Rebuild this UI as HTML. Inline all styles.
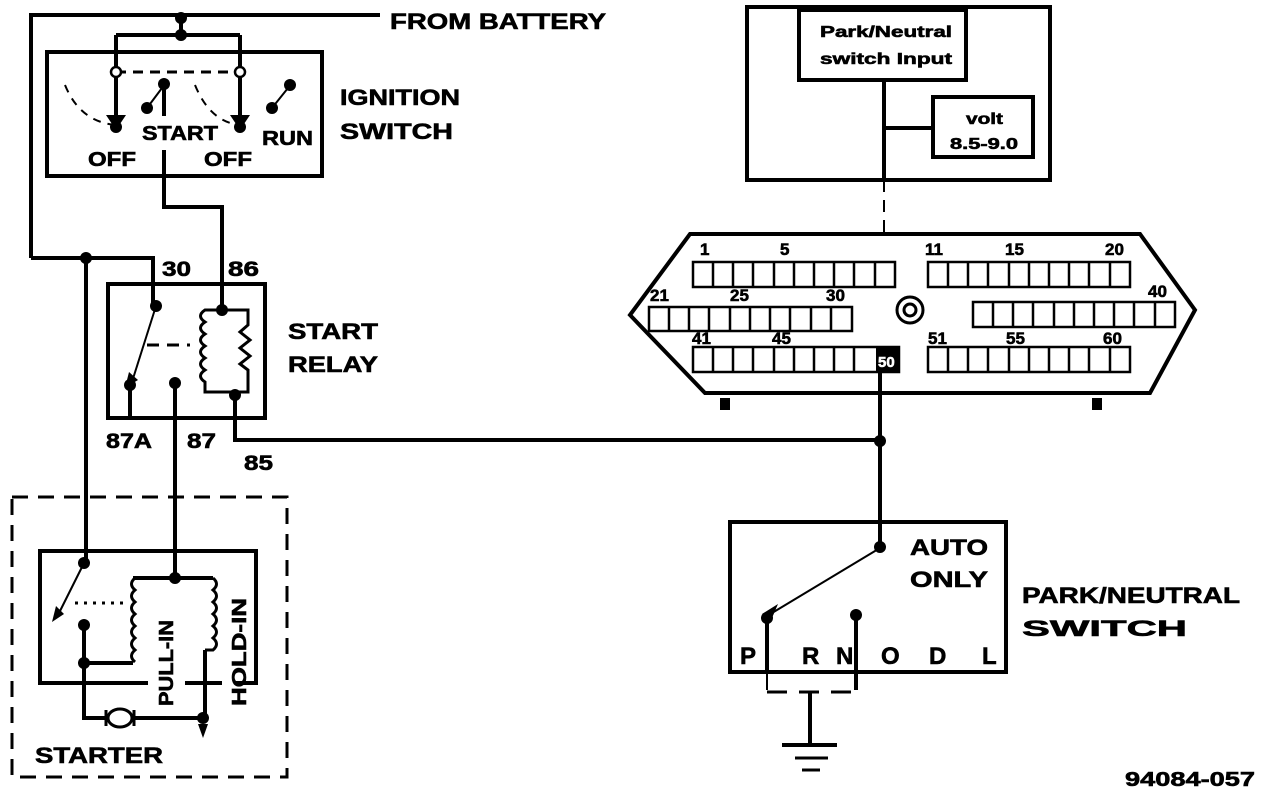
<!DOCTYPE html>
<html><head><meta charset="utf-8"><style>
html,body{margin:0;padding:0;background:#fff;}
svg{display:block;}
text{font-family:"Liberation Sans",Arial,sans-serif;font-weight:bold;fill:#000;stroke:#000;stroke-width:0.6;}
</style></head><body>
<svg width="1280" height="794" viewBox="0 0 1280 794" xmlns="http://www.w3.org/2000/svg">
<g fill="none" stroke="#000" stroke-width="4" stroke-linejoin="miter">
<path d="M31 258 V15 H380"/>
<path d="M181 18 V35 M116 35 H240 M116 35 V122 M240 35 V122"/>
<rect x="47" y="52" width="275" height="124"/>
<path d="M164 84 V116 M164 150 V207 H222 V310"/>
<path d="M31 258 H153 V306"/>
<path d="M86 258 V563"/>
<rect x="108" y="284" width="157" height="134"/>
<path d="M175 383 V578"/>
<path d="M130 385 V418"/>
<path d="M235 395 V440 H880"/>
<path d="M880 372 V548"/>
<path d="M148 683 H40 V551 H256 V683 H236 M185 683 H222"/>
<path d="M175 578 H213 M133 578 H175"/>
<path d="M84 625 V718 H105 M135 718 H203 M84 663 H133"/>
<path d="M205 650 V718"/>
<rect x="747" y="7" width="303" height="173"/>
<rect x="799" y="10" width="167" height="70"/>
<rect x="933" y="97" width="100" height="60"/>
<path d="M884 80 V180 M884 128 H933"/>
<path d="M690 234 H1140 L1195 310 L1150 393 H705 L630 315 Z"/>
<rect x="730" y="522" width="276" height="150"/>
<path d="M767 620 V672"/>
<path d="M856 615 V690"/>
<path d="M810 692 V745 M782 745 H837"/>
</g>
<g fill="none" stroke="#000" stroke-width="2">
<path d="M767 672 V690"/>
<path d="M880 548 L772 613"/>
<path d="M156 306 L131 385"/>
<path d="M84 563 L57 617"/>
<path d="M147 108 L162 88 M272 108 L288 88"/>
<path d="M65 85 Q80 122 116 125" stroke-dasharray="8 7"/>
<path d="M195 85 Q210 122 240 125" stroke-dasharray="8 7"/>
<path d="M116 72 H240" stroke-width="3" stroke-dasharray="10 7"/>
<path d="M147 345 H190" stroke-width="3" stroke-dasharray="12 8"/>
<path d="M75 603 H125" stroke-width="3" stroke-dasharray="3 6"/>
<path d="M884 180 V235" stroke-width="2" stroke-dasharray="12 8"/>
<path d="M767 692 H857" stroke-width="3" stroke-dasharray="20 12"/>
<path d="M12 497 H287 V777 H12 Z" stroke-width="3" stroke-dasharray="16 10"/>
<path d="M795 758 H828 M802 770 H820" stroke-width="3"/>
<path d="M222 310 H205 Q196 316 205 322 Q196 328 205 334 Q196 340 205 346 Q196 352 205 358 Q196 364 205 370 Q196 376 205 382 V392 H235" stroke-width="3"/>
<path d="M222 310 H248 V325 L240 332 L250 340 L240 348 L250 356 L240 364 L248 370 V392 H235" stroke-width="3"/>
<path d="M135 578 Q128 584 135 590 Q128 596 135 602 Q128 608 135 614 Q128 620 135 626 Q128 632 135 638 Q128 644 135 650 Q128 656 135 662" stroke-width="3"/>
<path d="M213 578 Q220 584 213 590 Q220 596 213 602 Q220 608 213 614 Q220 620 213 626 Q220 632 213 638 Q220 644 213 650 H205" stroke-width="3"/>
<ellipse cx="120" cy="718" rx="12" ry="9" stroke-width="3"/>
<path d="M106 710 V726 M134 710 V726" stroke-width="3"/>
<g stroke-width="2.5">
<rect x="693" y="262" width="202" height="25"/><path d="M713 262v25M733 262v25M753 262v25M774 262v25M794 262v25M814 262v25M834 262v25M854 262v25M875 262v25"/>
<rect x="928" y="262" width="202" height="25"/><path d="M948 262v25M968 262v25M988 262v25M1009 262v25M1029 262v25M1049 262v25M1069 262v25M1089 262v25M1110 262v25"/>
<rect x="649" y="307" width="203" height="24"/><path d="M669 307v24M689 307v24M709 307v24M730 307v24M750 307v24M770 307v24M790 307v24M811 307v24M831 307v24"/>
<rect x="973" y="302" width="202" height="25"/><path d="M993 302v25M1013 302v25M1033 302v25M1054 302v25M1074 302v25M1094 302v25M1114 302v25M1134 302v25M1155 302v25"/>
<rect x="693" y="347" width="206" height="25"/><path d="M713 347v25M733 347v25M753 347v25M774 347v25M794 347v25M814 347v25M834 347v25M854 347v25"/>
<rect x="928" y="347" width="202" height="25"/><path d="M948 347v25M968 347v25M988 347v25M1009 347v25M1029 347v25M1049 347v25M1069 347v25M1089 347v25M1110 347v25"/>
</g>
<circle cx="910" cy="310" r="13" stroke-width="3"/>
<circle cx="910" cy="310" r="6" stroke-width="3"/>
<circle cx="116" cy="72" r="5" stroke-width="2.5" fill="#fff"/>
<circle cx="240" cy="72" r="5" stroke-width="2.5" fill="#fff"/>
</g>
<rect x="876" y="347" width="24" height="25" fill="#000"/>
<text x="878" y="367" font-size="15" style="fill:#fff;stroke:#fff">50</text>
<path d="M720 398 h10 v12 h-10z M1092 398 h10 v12 h-10z" fill="#000"/>
<g fill="#000">
<circle cx="181" cy="18" r="6"/><circle cx="181" cy="35" r="6"/>
<circle cx="164" cy="84" r="6"/><circle cx="147" cy="108" r="6"/>
<circle cx="290" cy="85" r="6"/><circle cx="272" cy="108" r="6"/>
<circle cx="116" cy="127" r="6"/><circle cx="240" cy="127" r="6"/>
<path d="M106 115 L116 130 L126 115 Z M230 115 L240 130 L250 115 Z"/>
<circle cx="86" cy="258" r="6"/>
<circle cx="156" cy="306" r="6"/><circle cx="222" cy="310" r="6"/>
<circle cx="130" cy="385" r="6"/><circle cx="175" cy="383" r="6"/><circle cx="235" cy="395" r="6"/>
<circle cx="880" cy="441" r="6"/><circle cx="880" cy="547" r="6"/>
<circle cx="767" cy="618" r="6"/><circle cx="856" cy="615" r="6"/>
<circle cx="84" cy="563" r="6"/><circle cx="175" cy="578" r="6"/>
<circle cx="84" cy="625" r="6"/><circle cx="84" cy="663" r="6"/><circle cx="203" cy="718" r="6"/>
<path d="M198 724 L203 738 L208 724 Z"/>
<path d="M52 622 L56 606 L64 614 Z"/>
<path d="M125 388 L129 372 L138 380 Z"/>
<path d="M762 614 L778 604 L772 618 Z"/>
</g>
<g font-size="22">
<text x="390" y="29" textLength="216" lengthAdjust="spacingAndGlyphs">FROM BATTERY</text>
<text x="340" y="105" textLength="120" lengthAdjust="spacingAndGlyphs">IGNITION</text>
<text x="340" y="139" textLength="113" lengthAdjust="spacingAndGlyphs">SWITCH</text>
<text x="142" y="140" font-size="20" textLength="76" lengthAdjust="spacingAndGlyphs">START</text>
<text x="88" y="166" font-size="20" textLength="48" lengthAdjust="spacingAndGlyphs">OFF</text>
<text x="204" y="166" font-size="20" textLength="48" lengthAdjust="spacingAndGlyphs">OFF</text>
<text x="262" y="145" font-size="20" textLength="51" lengthAdjust="spacingAndGlyphs">RUN</text>
<text x="162" y="276" font-size="21" textLength="29" lengthAdjust="spacingAndGlyphs">30</text>
<text x="228" y="276" font-size="21" textLength="31" lengthAdjust="spacingAndGlyphs">86</text>
<text x="288" y="339" textLength="90" lengthAdjust="spacingAndGlyphs">START</text>
<text x="288" y="372" textLength="90" lengthAdjust="spacingAndGlyphs">RELAY</text>
<text x="106" y="448" font-size="21" textLength="46" lengthAdjust="spacingAndGlyphs">87A</text>
<text x="187" y="448" font-size="21" textLength="29" lengthAdjust="spacingAndGlyphs">87</text>
<text x="244" y="470" font-size="21" textLength="29" lengthAdjust="spacingAndGlyphs">85</text>
<text x="35" y="763" textLength="128" lengthAdjust="spacingAndGlyphs">STARTER</text>
<text transform="translate(173,706) rotate(-90)" font-size="20" textLength="86" lengthAdjust="spacingAndGlyphs">PULL-IN</text>
<text transform="translate(246,706) rotate(-90)" font-size="20" textLength="108" lengthAdjust="spacingAndGlyphs">HOLD-IN</text>
<text x="910" y="555" textLength="78" lengthAdjust="spacingAndGlyphs">AUTO</text>
<text x="910" y="587" textLength="78" lengthAdjust="spacingAndGlyphs">ONLY</text>
<text x="1022" y="603" textLength="218" lengthAdjust="spacingAndGlyphs">PARK/NEUTRAL</text>
<text x="1022" y="636" textLength="165" lengthAdjust="spacingAndGlyphs">SWITCH</text>
<text x="740" y="664" font-size="24">P</text><text x="802" y="664" font-size="24">R</text><text x="836" y="664" font-size="24">N</text>
<text x="881" y="664" font-size="24">O</text><text x="929" y="664" font-size="24">D</text><text x="982" y="664" font-size="24">L</text>
<text x="1125" y="786" font-size="20" textLength="130" lengthAdjust="spacingAndGlyphs">94084-057</text>
</g>
<g font-size="16">
<text x="820" y="37" textLength="132" lengthAdjust="spacingAndGlyphs">Park/Neutral</text>
<text x="820" y="64" textLength="132" lengthAdjust="spacingAndGlyphs">switch Input</text>
<text x="966" y="124" textLength="37" lengthAdjust="spacingAndGlyphs">volt</text>
<text x="950" y="149" textLength="68" lengthAdjust="spacingAndGlyphs">8.5-9.0</text>
<g font-size="17">
<text x="700" y="255">1</text><text x="780" y="255">5</text>
<text x="925" y="255">11</text><text x="1005" y="255">15</text><text x="1105" y="255">20</text>
<text x="650" y="301">21</text><text x="730" y="301">25</text><text x="826" y="301">30</text>
<text x="1148" y="297">40</text>
<text x="692" y="344">41</text><text x="772" y="344">45</text>
<text x="928" y="344">51</text><text x="1006" y="344">55</text><text x="1103" y="344">60</text>
</g>
</g>
</svg>
</body></html>
